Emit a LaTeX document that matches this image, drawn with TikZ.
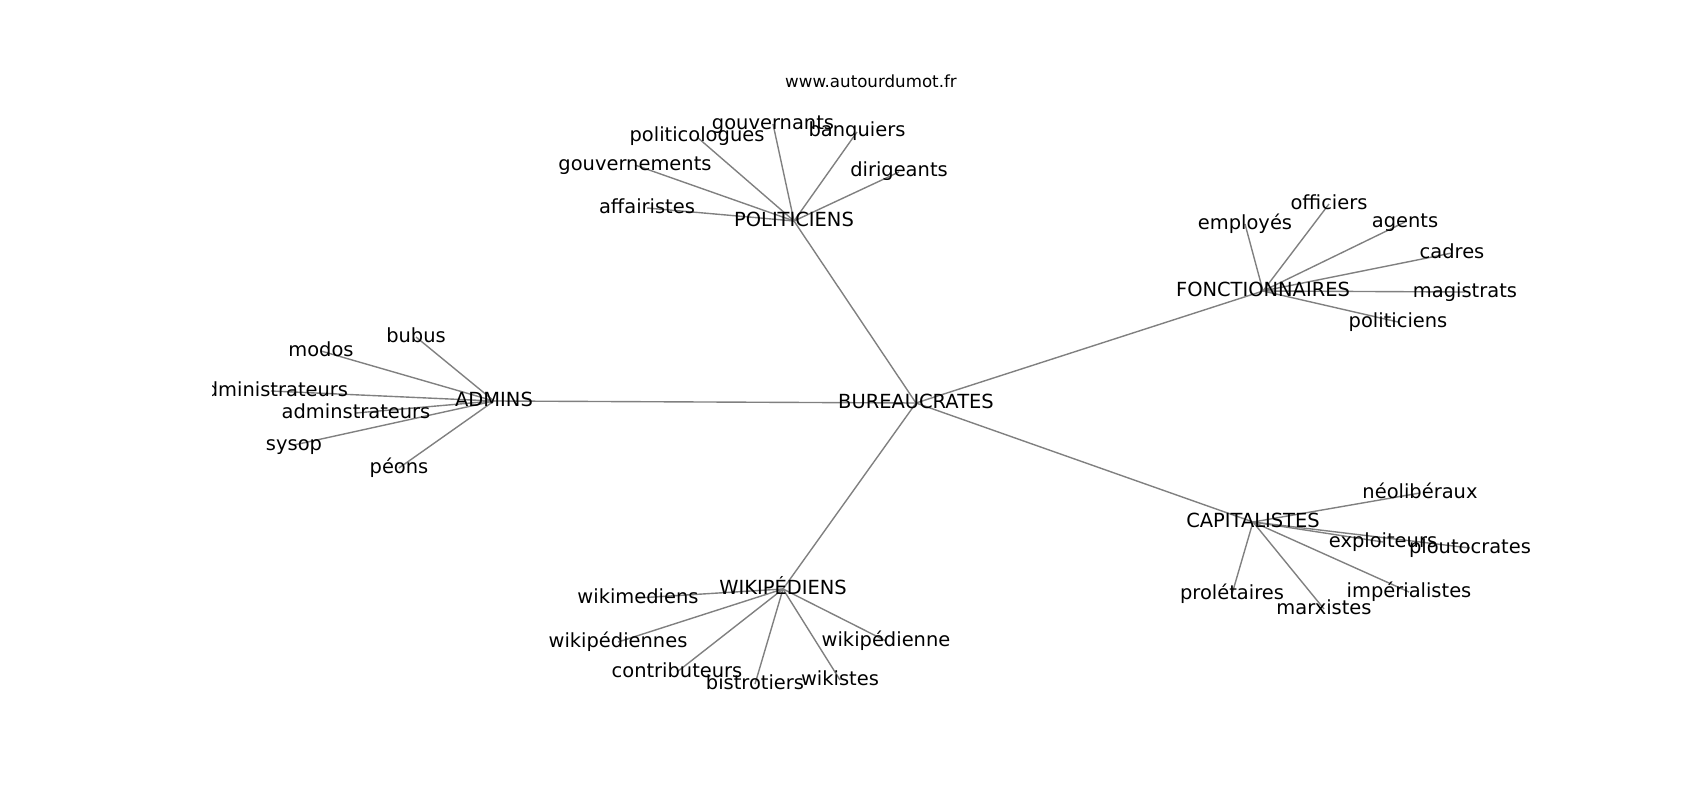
\documentclass[tikz,border=0pt]{standalone}
\usepackage{fontspec}
\setmainfont{DejaVu Sans}
\usetikzlibrary{backgrounds}
\begin{document}
\begin{tikzpicture}[x=0.01in,y=-0.01in,
  lbl/.style={inner sep=0pt, text height=10.6bp, text depth=3.4bp, font=\fontsize{14bp}{17bp}\selectfont},
  ttl/.style={inner sep=0pt, anchor=base, font=\fontsize{12bp}{14bp}\selectfont},
  edge/.style={draw=black!50, line width=1bp}]
\useasboundingbox (0,0) rectangle (1700,800);
\node[ttl] (url) at (871,87.7) {www.autourdumot.fr};
\begin{scope}
\clip (212.5,96) rectangle (1530,712);
% hubs
\node[lbl] (bur) at (916,403) {BUREAUCRATES};
\node[lbl] (pol) at (794,221) {POLITICIENS};
\node[lbl] (fon) at (1263,291) {FONCTIONNAIRES};
\node[lbl] (cap) at (1253,522) {CAPITALISTES};
\node[lbl] (wik) at (783,589) {WIKIPÉDIENS};
\node[lbl] (adm) at (494,401) {ADMINS};
% politiciens
\node[lbl] (p1) at (647,208) {affairistes};
\node[lbl] (p2) at (635,165) {gouvernements};
\node[lbl] (p3) at (697,137) {politicologues};
\node[lbl] (p4) at (773,124) {gouvernants};
\node[lbl] (p5) at (857,132) {banquiers};
\node[lbl] (p6) at (899,172) {dirigeants};
% fonctionnaires
\node[lbl] (f1) at (1245,224) {employés};
\node[lbl] (f2) at (1329,204) {officiers};
\node[lbl] (f3) at (1405,222) {agents};
\node[lbl] (f4) at (1452,253) {cadres};
\node[lbl] (f5) at (1465,292) {magistrats};
\node[lbl] (f6) at (1398,322) {politiciens};
% capitalistes
\node[lbl] (c1) at (1420,493) {néolibéraux};
\node[lbl] (c2) at (1383,542) {exploiteurs};
\node[lbl] (c3) at (1470,548) {ploutocrates};
\node[lbl] (c4) at (1409,592) {impérialistes};
\node[lbl] (c5) at (1324,609) {marxistes};
\node[lbl] (c6) at (1232,594) {prolétaires};
% wikipediens
\node[lbl] (w1) at (638,598) {wikimediens};
\node[lbl] (w2) at (618,642) {wikipédiennes};
\node[lbl] (w3) at (677,672) {contributeurs};
\node[lbl] (w4) at (755,684) {bistrotiers};
\node[lbl] (w5) at (840,680) {wikistes};
\node[lbl] (w6) at (886,641) {wikipédienne};
% admins
\node[lbl] (a1) at (416,337) {bubus};
\node[lbl] (a2) at (321,351) {modos};
\node[lbl] (a3) at (271,391) {administrateurs};
\node[lbl] (a4) at (356,413) {adminstrateurs};
\node[lbl] (a5) at (294,445) {sysop};
\node[lbl] (a6) at (399,468) {péons};
\end{scope}
\begin{scope}[on background layer]
\fill[white] (0,0) rectangle (1700,800);
\foreach \h in {pol,fon,cap,wik,adm} \draw[edge] (bur.center) -- (\h.center);
\foreach \l in {p1,p2,p3,p4,p5,p6} \draw[edge] (pol.center) -- (\l.center);
\foreach \l in {f1,f2,f3,f4,f5,f6} \draw[edge] (fon.center) -- (\l.center);
\foreach \l in {c1,c2,c3,c4,c5,c6} \draw[edge] (cap.center) -- (\l.center);
\foreach \l in {w1,w2,w3,w4,w5,w6} \draw[edge] (wik.center) -- (\l.center);
\foreach \l in {a1,a2,a3,a4,a5,a6} \draw[edge] (adm.center) -- (\l.center);
\end{scope}
\end{tikzpicture}
\end{document}
